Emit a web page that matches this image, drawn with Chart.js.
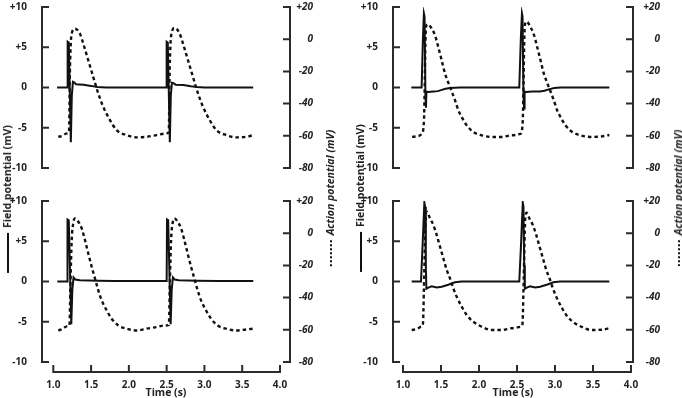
<!DOCTYPE html>
<html>
<head>
<meta charset="utf-8">
<script src="https://cdn.jsdelivr.net/npm/chart.js@4.4.0/dist/chart.umd.min.js"></script>
<style>
  body { margin: 0; background: #fff; overflow: hidden; }
  #wrap { position: relative; width: 682px; height: 398px; overflow: hidden; font-family: "Open Sans", sans-serif; }
  canvas { position: absolute; }
  .lbl { position: absolute; white-space: nowrap; font-weight: 700; font-size: 10.5px; color: #222;
         line-height: 12px; transform: translate(-50%, -50%) rotate(-90deg); }
  .lbl.ap { font-style: italic; }
  .solid { display: inline-block; width: 40px; height: 2.5px; background: #111; vertical-align: middle; margin-right: 5px; }
  .dots { display: inline-block; width: 26px; border-top: 2.5px dotted #111; vertical-align: middle; margin-right: 5px; }
</style>
</head>
<body>
<div id="wrap">
  <canvas id="tl" width="341" height="180" style="left:0;top:0"></canvas>
  <canvas id="tr" width="341" height="180" style="left:341px;top:0"></canvas>
  <canvas id="bl" width="341" height="216" style="left:0;top:185px"></canvas>
  <canvas id="br" width="341" height="216" style="left:341px;top:185px"></canvas>

  <div class="lbl" style="left:7px;top:199px"><span class="solid"></span>Field potential (mV)</div>
  <div class="lbl ap" style="left:330px;top:198px"><span class="dots"></span>Action potential (mV)</div>
  <div class="lbl" style="left:360px;top:198px"><span class="solid"></span>Field potential (mV)</div>
  <div class="lbl ap" style="left:678px;top:198px"><span class="dots"></span>Action potential (mV)</div>
</div>

<script>
// Ticks de los ejes
const fieldTicks = [-10, -5, 0, 5, 10]
const apTicks = [-80, -60, -40, -20, 0, 20]
const timeTicks = [1.0, 1.5, 2.0, 2.5, 3.0, 3.5, 4.0]

// Panel arriba-izquierda
const tlFieldT = [1.05, 1.185, 1.19, 1.205, 1.232, 1.245, 1.26, 1.28, 1.30, 1.40, 1.50, 1.58, 1.70, 2.495, 2.50, 2.515, 2.542, 2.555, 2.57, 2.59, 2.62, 2.72, 2.82, 2.90, 3.00, 3.645]
const tlFieldV = [0, 0, 5.7, 5.6, -6.8, -1, 0.7, 0.6, 0.4, 0.35, 0.2, 0.05, 0, 0, 5.7, 5.6, -6.8, -1, 0.6, 0.55, 0.35, 0.3, 0.15, 0.05, 0, 0]
const tlApT = [1.066, 1.12, 1.177, 1.208, 1.221, 1.243, 1.287, 1.353, 1.397, 1.463, 1.529, 1.595, 1.661, 1.750, 1.839, 1.971, 2.103, 2.235, 2.368, 2.50, 2.528, 2.541, 2.563, 2.607, 2.673, 2.717, 2.783, 2.849, 2.915, 2.981, 3.07, 3.159, 3.291, 3.423, 3.555, 3.645]
const tlApV = [-60.6, -60, -58.5, -57.5, -17.3, 3.4, 6.5, 3.4, -2.8, -13.1, -23.5, -33.7, -42.0, -50.3, -56.5, -59.6, -61.0, -60.6, -59.6, -58.5, -57.5, -17.3, 3.4, 7.0, 3.4, -2.8, -13.1, -23.5, -33.7, -42.0, -50.3, -56.5, -59.6, -61.0, -60.6, -59.6]

// Panel arriba-derecha
const trFieldT = [1.11, 1.245, 1.262, 1.275, 1.284, 1.295, 1.302, 1.308, 1.33, 1.40, 1.46, 1.51, 1.56, 1.62, 1.75, 2.53, 2.55, 2.565, 2.573, 2.585, 2.594, 2.60, 2.62, 2.70, 2.80, 2.86, 2.93, 2.99, 3.07, 3.715]
const trFieldV = [0, 0, 6, 9.2, 8.8, -1, -2.5, -0.5, -0.55, -0.5, -0.45, -0.3, -0.15, -0.05, 0, 0, 6, 9.2, 8.8, -1, -2.6, -0.5, -0.55, -0.5, -0.5, -0.4, -0.2, -0.07, 0, 0]
const trApT = [1.12, 1.20, 1.25, 1.276, 1.286, 1.293, 1.303, 1.325, 1.378, 1.421, 1.464, 1.509, 1.553, 1.596, 1.641, 1.684, 1.728, 1.772, 1.838, 1.925, 2.036, 2.167, 2.299, 2.43, 2.55, 2.576, 2.586, 2.593, 2.603, 2.625, 2.678, 2.721, 2.764, 2.809, 2.853, 2.896, 2.941, 2.984, 3.028, 3.072, 3.138, 3.225, 3.336, 3.467, 3.599, 3.715]
const trApV = [-60.7, -60.2, -58.6, -50.4, -27.6, -6.9, 7.6, 9.3, 6.6, 2.4, -4.8, -13.1, -21.4, -27.0, -32.5, -37.9, -44.1, -48.3, -53.5, -57.6, -59.7, -60.7, -60.7, -59.7, -58.6, -50.4, -27.6, -6.9, 8.5, 11, 7.5, 3, -4.5, -13, -21.4, -27, -32.5, -37.9, -44.1, -48.3, -53.5, -57.6, -59.7, -60.7, -60.5, -59.5]

// Panel abajo-izquierda
const blFieldT = [1.053, 1.183, 1.188, 1.205, 1.238, 1.252, 1.268, 1.29, 1.35, 1.6, 1.8, 2.50, 2.505, 2.52, 2.553, 2.567, 2.583, 2.605, 2.66, 2.9, 3.2, 3.646]
const blFieldV = [0, 0, 7.7, 7.6, -5.3, -1, 0.5, 0.25, 0.15, 0.1, 0.05, 0.05, 7.7, 7.6, -5.3, -1, 0.5, 0.25, 0.15, 0.1, 0.05, 0.05]
const blApT = [1.066, 1.12, 1.177, 1.214, 1.228, 1.243, 1.265, 1.287, 1.331, 1.376, 1.419, 1.463, 1.508, 1.552, 1.595, 1.640, 1.706, 1.772, 1.860, 1.971, 2.103, 2.235, 2.368, 2.478, 2.529, 2.543, 2.558, 2.58, 2.602, 2.646, 2.691, 2.734, 2.778, 2.823, 2.867, 2.91, 2.955, 3.021, 3.087, 3.175, 3.286, 3.418, 3.55, 3.646]
const blApV = [-60.4, -59.5, -57.9, -57, -30, -5, 6.5, 9.2, 7.1, 3.0, -4.3, -12.6, -20.9, -28.2, -35.4, -41.7, -47.9, -53.1, -57.3, -59.3, -60.4, -59.3, -58.3, -57.3, -57, -30, -5, 6.5, 9.2, 7.1, 3.0, -4.3, -12.6, -20.9, -28.2, -35.4, -41.7, -47.9, -53.1, -57.3, -59.3, -60.4, -59.8, -59.3]

// Panel abajo-derecha
const brFieldT = [1.114, 1.237, 1.26, 1.281, 1.29, 1.30, 1.308, 1.333, 1.377, 1.443, 1.509, 1.596, 1.684, 1.772, 2.53, 2.555, 2.576, 2.585, 2.595, 2.603, 2.628, 2.672, 2.738, 2.804, 2.891, 2.979, 3.067, 3.715]
const brFieldV = [0, 0, 5, 9.8, 9.3, 2, -0.9, -0.75, -0.6, -0.75, -0.65, -0.4, -0.1, 0, 0, 5, 9.8, 9.3, 2, -0.9, -0.75, -0.6, -0.75, -0.65, -0.4, -0.1, 0, 0]
const brApT = [1.114, 1.18, 1.237, 1.263, 1.275, 1.287, 1.299, 1.31, 1.355, 1.399, 1.443, 1.487, 1.531, 1.575, 1.618, 1.662, 1.706, 1.772, 1.838, 1.925, 2.036, 2.167, 2.299, 2.43, 2.55, 2.573, 2.585, 2.597, 2.609, 2.625, 2.665, 2.709, 2.753, 2.797, 2.841, 2.885, 2.928, 2.972, 3.016, 3.082, 3.148, 3.235, 3.346, 3.477, 3.609, 3.715]
const brApV = [-60.1, -59.5, -58.1, -56, -35, -10, 10, 13.4, 9.3, 5.1, -1.1, -8.4, -15.6, -22.8, -28, -34.2, -39.4, -45.6, -50.8, -55, -58.1, -60.1, -60.1, -59, -58.1, -56, -35, -10, 10, 12.7, 9, 5, -1.1, -8.4, -15.6, -22.8, -28, -34.2, -39.4, -45.6, -50.8, -55, -58.1, -60.1, -60, -59]

const ink = '#111'
const axisInk = '#2b2b2b'
const tickFont = { family: 'Open Sans', size: 10, weight: 'bold' }
const tickFontItalic = { family: 'Open Sans', size: 10, weight: 'bold', style: 'italic' }
const titleFont = { family: 'Open Sans', size: 10.5, weight: 'bold' }

// Une los arrays de tiempo y valor en puntos {x, y}
const toPoints = (t, v) => t.map((x, i) => ({ x: x, y: v[i] }))
const signed = (v) => v > 0 ? '+' + v : String(v)

// Dibuja los ejes con los ticks hacia adentro, como en la figura original
const ejesPlugin = {
    id: 'ejes',
    afterDatasetsDraw(chart) {
        const ctx = chart.ctx
        const area = chart.chartArea
        const { x, y, y2 } = chart.scales
        ctx.save()
        ctx.strokeStyle = axisInk
        ctx.lineWidth = 2
        ctx.beginPath()
        // eje izquierdo
        ctx.moveTo(area.left, y.getPixelForValue(10) - 1)
        ctx.lineTo(area.left, y.getPixelForValue(-10) + 1)
        fieldTicks.forEach(v => {
            const p = y.getPixelForValue(v)
            ctx.moveTo(area.left, p)
            ctx.lineTo(area.left + 7, p)
        })
        // eje derecho
        ctx.moveTo(area.right, y2.getPixelForValue(20) - 1)
        ctx.lineTo(area.right, y2.getPixelForValue(-80) + 1)
        apTicks.forEach(v => {
            const p = y2.getPixelForValue(v)
            ctx.moveTo(area.right, p)
            ctx.lineTo(area.right - 7, p)
        })
        // eje de tiempo (solo paneles de abajo)
        if (chart.options.scales.x.display) {
            const yy = area.bottom + 10
            ctx.moveTo(x.getPixelForValue(1) - 1, yy)
            ctx.lineTo(x.getPixelForValue(4) + 1, yy)
            timeTicks.forEach(v => {
                const p = x.getPixelForValue(v)
                ctx.moveTo(p, yy)
                ctx.lineTo(p, yy - 7)
            })
        }
        ctx.stroke()
        ctx.restore()
    }
}

const noPad = (s) => { s.paddingTop = 0; s.paddingBottom = 0; s.paddingLeft = 0; s.paddingRight = 0 }

const makeChart = (id, cfg) => {
    new Chart(document.getElementById(id), {
        type: 'line',
        data: {
            datasets: [{
                data: toPoints(cfg.fieldT, cfg.fieldV),
                yAxisID: 'y',
                borderColor: ink,
                borderWidth: 2,
                pointRadius: 0,
                tension: 0
            }, {
                data: toPoints(cfg.apT, cfg.apV),
                yAxisID: 'y2',
                borderColor: ink,
                borderWidth: 2.4,
                borderDash: [3.5, 3],
                pointRadius: 0,
                cubicInterpolationMode: 'monotone'
            }]
        },
        options: {
            responsive: false,
            animation: false,
            devicePixelRatio: 1,
            layout: { padding: { top: cfg.padTop, bottom: cfg.padBottom, left: 0, right: cfg.padRight } },
            plugins: { legend: { display: false }, tooltip: { enabled: false } },
            scales: {
                x: {
                    type: 'linear',
                    min: cfg.xMin,
                    max: cfg.xMax,
                    display: cfg.showX,
                    grid: { display: false },
                    border: { display: false },
                    afterBuildTicks: s => { s.ticks = timeTicks.map(v => ({ value: v })) },
                    afterFit: s => { noPad(s); if (cfg.showX) s.height = cfg.xHeight },
                    ticks: { padding: 9, maxRotation: 0, autoSkip: false, color: '#222', font: tickFont, callback: v => v.toFixed(1) },
                    title: { display: true, text: 'Time (s)', color: '#222', font: titleFont, padding: { top: 0, bottom: 2 } }
                },
                y: {
                    position: 'left',
                    min: -10,
                    max: 10,
                    grid: { display: false },
                    border: { display: false },
                    afterBuildTicks: s => { s.ticks = fieldTicks.map(v => ({ value: v })) },
                    afterFit: s => { noPad(s); s.width = cfg.leftW },
                    ticks: { padding: 7, color: '#222', font: tickFont, callback: signed }
                },
                y2: {
                    position: 'right',
                    min: -80,
                    max: 20,
                    grid: { display: false },
                    border: { display: false },
                    afterBuildTicks: s => { s.ticks = apTicks.map(v => ({ value: v })) },
                    afterFit: s => { noPad(s); s.width = cfg.rightW },
                    ticks: { crossAlign: 'far', color: '#222', font: tickFontItalic, callback: signed }
                }
            }
        },
        plugins: [ejesPlugin]
    })
}

// columna izquierda: area 42..290, 1.0 en x=53, 4.0 en x=280
const leftCol = { xMin: 0.8505, xMax: 4.1323, leftW: 42, rightW: 23, padRight: 28 }
// columna derecha: area 52..292 dentro del canvas, 1.0 en x=62, 4.0 en x=290
const rightCol = { xMin: 0.8684, xMax: 4.0263, leftW: 52, rightW: 27, padRight: 22 }

makeChart('tl', Object.assign({}, leftCol, { fieldT: tlFieldT, fieldV: tlFieldV, apT: tlApT, apV: tlApV, showX: false, padTop: 7, padBottom: 12 }))
makeChart('tr', Object.assign({}, rightCol, { fieldT: trFieldT, fieldV: trFieldV, apT: trApT, apV: trApV, showX: false, padTop: 7, padBottom: 12 }))
makeChart('bl', Object.assign({}, leftCol, { fieldT: blFieldT, fieldV: blFieldV, apT: blApT, apV: blApV, showX: true, xHeight: 39, padTop: 16, padBottom: 0 }))
makeChart('br', Object.assign({}, rightCol, { fieldT: brFieldT, fieldV: brFieldV, apT: brApT, apV: brApV, showX: true, xHeight: 39, padTop: 16, padBottom: 0 }))
</script>
</body>
</html>
